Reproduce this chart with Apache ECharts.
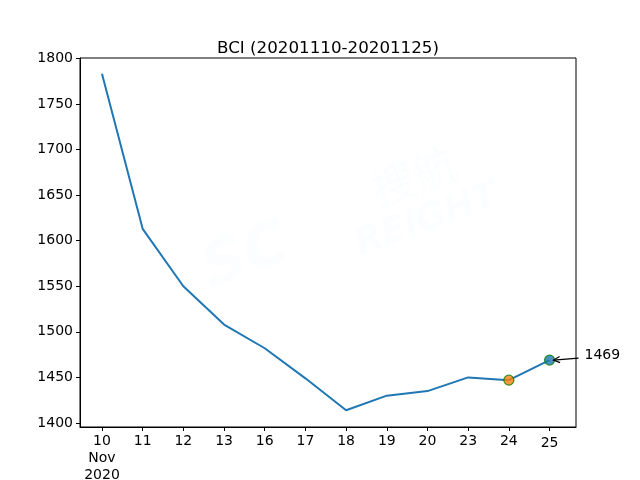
<!DOCTYPE html>
<html><head><meta charset="utf-8">
<script src="https://cdn.jsdelivr.net/npm/echarts@6/dist/echarts.min.js"></script>
<style>html,body{margin:0;padding:0;background:#fff}#c{width:640px;height:480px}</style>
</head><body><div id="c"></div>
<script>
var categories = ['10','11','12','13','16','17','18','19','20','23','24','25'];
var values = [1783, 1613, 1550, 1508, 1482, 1449, 1414, 1430, 1435, 1450, 1447, 1469];
var yTicks = [1400, 1450, 1500, 1550, 1600, 1650, 1700, 1750, 1800];
var titleText = 'BCI (20201110-20201125)';
var annotText = '1469';

var FONT = 'DejaVu Sans';
var idx = categories.map(function(_, i){ return i; });
var lineData = values.map(function(v, i){ return [i, v]; });
var n = values.length;

var chart = echarts.init(document.getElementById('c'), null, {renderer:'canvas'});
chart.setOption({
  animation: false,
  backgroundColor: '#fff',
  title: {text: titleText, left: 323, textAlign: 'center', top: 35,
    textStyle: {fontFamily: FONT, fontSize: 16.7, fontWeight: 'normal', color: '#000'}},
  grid: {left: 80, right: 64, top: 58, bottom: 53, show: true, borderColor: '#000', borderWidth: 1,
    backgroundColor: 'transparent', containLabel: false, outerBoundsMode: 'none'},
  xAxis: {
    type: 'value', min: -0.54, max: 11.65,
    splitLine: {show: false},
    axisLine: {show: true, onZero: false, lineStyle: {color: '#000'}},
    axisTick: {show: true, customValues: idx, length: 4, lineStyle: {color: '#000'}},
    axisLabel: {customValues: idx, fontFamily: FONT, fontSize: 14, color: '#000', margin: 6, lineHeight: 17,
      formatter: function(v){
        var i = Math.round(v);
        if (i === 0) return categories[0] + '\nNov\n2020';
        if (i === n - 1) return '{d|' + categories[i] + '}';
        return categories[i];
      },
      rich: {d: {fontFamily: FONT, fontSize: 14, color: '#000', padding: [3,0,0,0]}}
    }
  },
  yAxis: {
    type: 'value', min: 1395.6, max: 1800.4,
    splitLine: {show: false},
    axisLine: {show: true, onZero: false, lineStyle: {color: '#000'}},
    axisTick: {show: true, customValues: yTicks, length: 4, lineStyle: {color: '#000'}},
    axisLabel: {customValues: yTicks, fontFamily: FONT, fontSize: 14, color: '#000', margin: 7,
      formatter: function(v){ return String(Math.round(v)); }}
  },
  series: [
    {type: 'line', data: lineData, symbol: 'none',
     lineStyle: {color: '#1f77b4', width: 2}},
    {type: 'scatter', data: [lineData[n-2]], symbol: 'circle', symbolSize: 10,
     itemStyle: {color: '#ff7f0e', borderColor: 'green', borderWidth: 1.2}, z: 5},
    {type: 'scatter', data: [lineData[n-1]], symbol: 'circle', symbolSize: 10,
     itemStyle: {color: '#1f77b4', borderColor: 'green', borderWidth: 1.2}, z: 5}
  ]
});

// watermark + annotation anchored via the chart's own coordinate conversion
var p = chart.convertToPixel({gridIndex: 0}, lineData[n-1]);
var sx = p[0] + 29, sy = p[1] - 2;
var ex = p[0] + 4, ey = p[1];
var ang = Math.atan2(sy - ey, sx - ex);
var ah = 7, aw = 0.45;
chart.setOption({
  graphic: [
    {type:'text', left: 365, top: 140, rotation: 0.35, z: -10,
     style:{text:'搜航', font:'44px "Noto Sans CJK SC"', fill:'rgba(225,235,245,0.12)'}},
    {type:'text', left: 350, top: 178, rotation: 0.35, z: -10,
     style:{text:'REIGHT', font:'italic bold 36px "DejaVu Sans"', fill:'rgba(225,235,245,0.12)'}},
    {type:'text', left: 195, top: 215, rotation: 0.35, z: -10,
     style:{text:'SC', font:'italic bold 60px "DejaVu Sans"', fill:'rgba(225,235,245,0.1)'}},
    {type:'line', shape:{x1: sx, y1: sy, x2: ex, y2: ey}, style:{stroke:'#000', lineWidth: 1.2}, z: 100},
    {type:'polyline', shape:{points:[
        [ex + ah*Math.cos(ang+aw), ey + ah*Math.sin(ang+aw)],
        [ex, ey],
        [ex + ah*Math.cos(ang-aw), ey + ah*Math.sin(ang-aw)]]},
     style:{stroke:'#000', lineWidth: 1.2, fill: null}, z: 100},
    {type:'text', x: p[0] + 35, y: p[1] - 5, z: 100,
     style:{text: annotText, font:'14px "DejaVu Sans"', fill:'#000', textVerticalAlign:'middle', verticalAlign:'middle'}}
  ]
});
</script></body></html>
